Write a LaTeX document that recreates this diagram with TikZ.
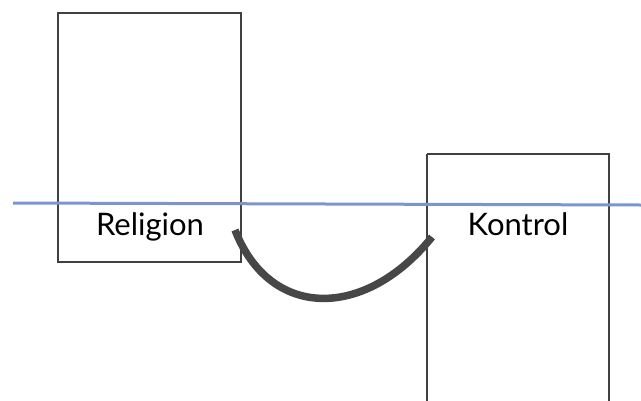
\documentclass[tikz,border=0pt]{standalone}
\usepackage{fontspec}
\setmainfont{Lato}
\begin{document}
\begin{tikzpicture}[x=1pt,y=-1pt,
  box/.style={draw=black!75,line width=2.2pt,inner sep=0pt,fill=none},
  lbl/.style={font=\fontsize{31}{34}\selectfont,text=black,inner sep=0pt,anchor=base},
  bar/.style={draw={rgb,255:red,122;green,150;blue,204},line width=3pt},
  link/.style={draw=black!72,line width=7.5pt}]
\useasboundingbox (0,0) rectangle (641,400);
\fill[white] (0,0) rectangle (641,400);
\draw[box] (58,13) rectangle (241,262);
\draw[box] (427,154) -- (609,154) -- (609,410);
\draw[box] (427,154) -- (427,410);
\coordinate (bl) at (13,203);
\coordinate (br) at (641,205);
\draw[bar] (bl) -- (br);
\node[lbl] (rel) at (150,235) {Religion};
\node[lbl] (kon) at (518,235) {Kontrol};
\coordinate (cs) at (235,230);
\coordinate (ce) at (432,237);
\draw[link] (cs) .. controls (270,320) and (365,320) .. (ce);
\end{tikzpicture}
\end{document}
